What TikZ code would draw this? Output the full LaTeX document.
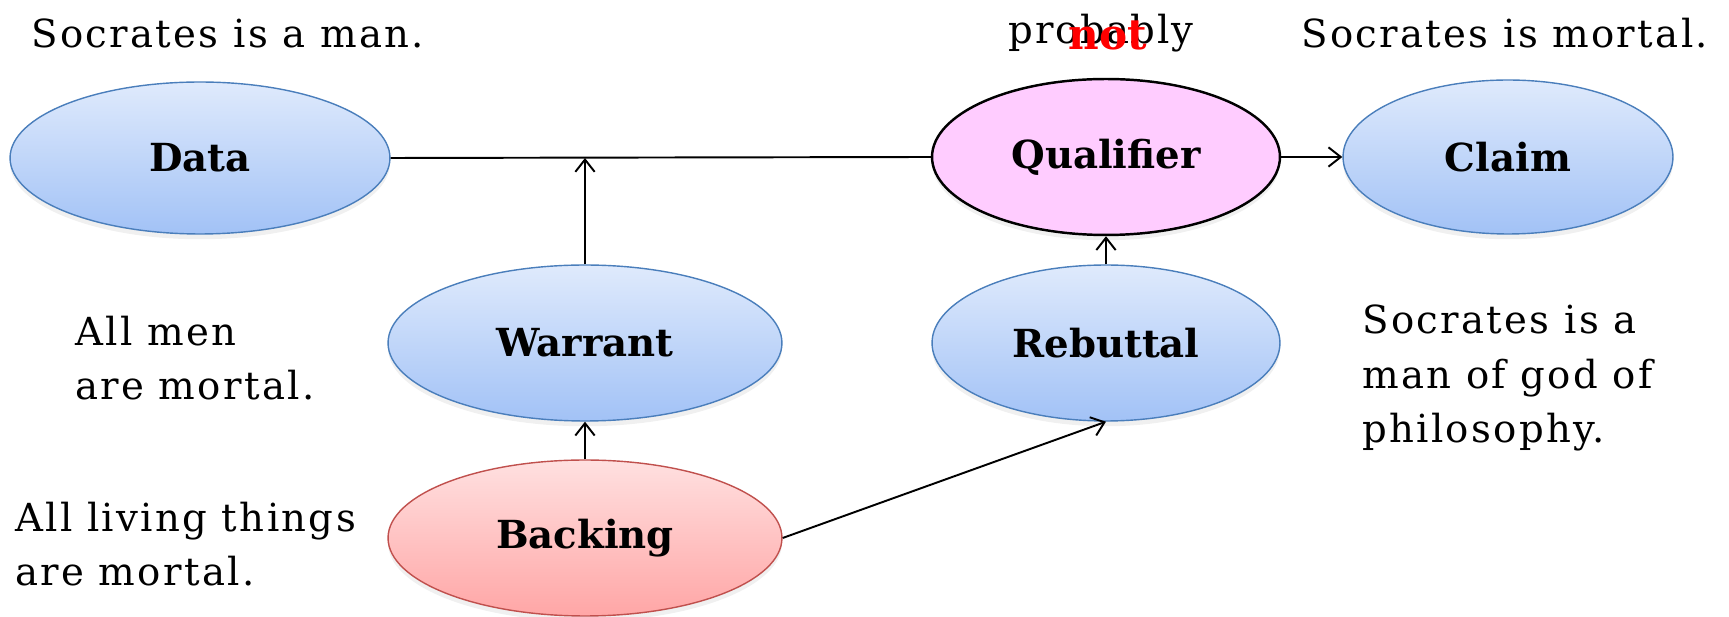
\documentclass[tikz,border=0pt]{standalone}
\usepackage{fontspec}
\setmainfont{DejaVu Serif}
\usetikzlibrary{shapes.geometric,arrows.meta,shadows}

\definecolor{bluetop}{HTML}{DFEAFC}
\definecolor{bluebot}{HTML}{A2C2F6}
\definecolor{blueline}{HTML}{4A7EBB}
\definecolor{redtop}{HTML}{FFE0E0}
\definecolor{redbot}{HTML}{FFA6A6}
\definecolor{redline}{HTML}{C0504D}
\definecolor{pinkfill}{HTML}{FFCCFF}

\tikzset{
  oval/.style={ellipse, inner sep=0pt, minimum width=#1, font=\fontsize{22}{24}\selectfont\bfseries,
    drop shadow={opacity=0.12, shadow xshift=0pt, shadow yshift=-3pt}},
  blueoval/.style={oval=#1, draw=blueline, line width=0.8pt, top color=bluetop, bottom color=bluebot},
  redoval/.style={oval=#1, draw=redline, line width=0.8pt, top color=redtop, bottom color=redbot},
  pinkoval/.style={oval=#1, draw=black, line width=1.4pt, fill=pinkfill},
  note/.style={anchor=west, inner sep=0pt, align=left, font=\fontsize{22}{31}\selectfont\addfontfeatures{LetterSpace=6}},
  link/.style={line width=1.1pt},
  arr/.style={link, -{Straight Barb[length=7pt, width=11pt, line width=1.1pt]}}
}

\begin{document}
\begin{tikzpicture}[x=0.02cm, y=-0.02cm]
				\useasboundingbox (0,0) rectangle (1729,617);
				
				% the six boxes
				\node[blueoval=7.6cm, minimum height=3.04cm] (data) at (200,158) {Data};
				\node[pinkoval=6.96cm, minimum height=3.12cm] (qualifier) at (1106,157) {Qualifier};
				\node[blueoval=6.6cm, minimum height=3.08cm] (claim) at (1508,157) {Claim};
				\node[blueoval=7.88cm, minimum height=3.12cm] (warrant) at (585,343) {Warrant};
				\node[blueoval=6.96cm, minimum height=3.12cm] (rebuttal) at (1106,343) {Rebuttal};
				\node[redoval=7.88cm, minimum height=3.12cm] (backing) at (585,538) {Backing};
				
				% texts beside them
				\node[note] (datatext) at (31,33) {Socrates is a man.};
				\node[inner sep=0pt, font=\fontsize{22}{31}\selectfont\addfontfeatures{LetterSpace=4}] (probably) at (1101,33) {probably};
				\node[inner sep=0pt, text=red, font=\fontsize{24}{24}\selectfont\bfseries] (nottext) at (1108,35) {not};
				\node[note] (claimtext) at (1301,33) {Socrates is mortal.};
				\node[note] (warranttext) at (75,358) {All men\\are mortal.};
				\node[note] (backingtext) at (15,544) {All living things\\are mortal.};
				\node[note] (rebuttaltext) at (1362,378) {Socrates is a\\man of god of\\philosophy.};
				
				% connectors
				\coordinate (join) at (warrant.north |- data.east);
				\draw[link] (data.east) -- (qualifier.west);
				\draw[arr] (qualifier.east) -- (claim.west);
				\draw[arr] (warrant.north) -- (join);
				\draw[arr] (rebuttal.north) -- (qualifier.south);
				\draw[arr] (backing.north) -- (warrant.south);
				\draw[arr] (backing.east) -- (rebuttal.south);
			\end{tikzpicture}
\end{document}
